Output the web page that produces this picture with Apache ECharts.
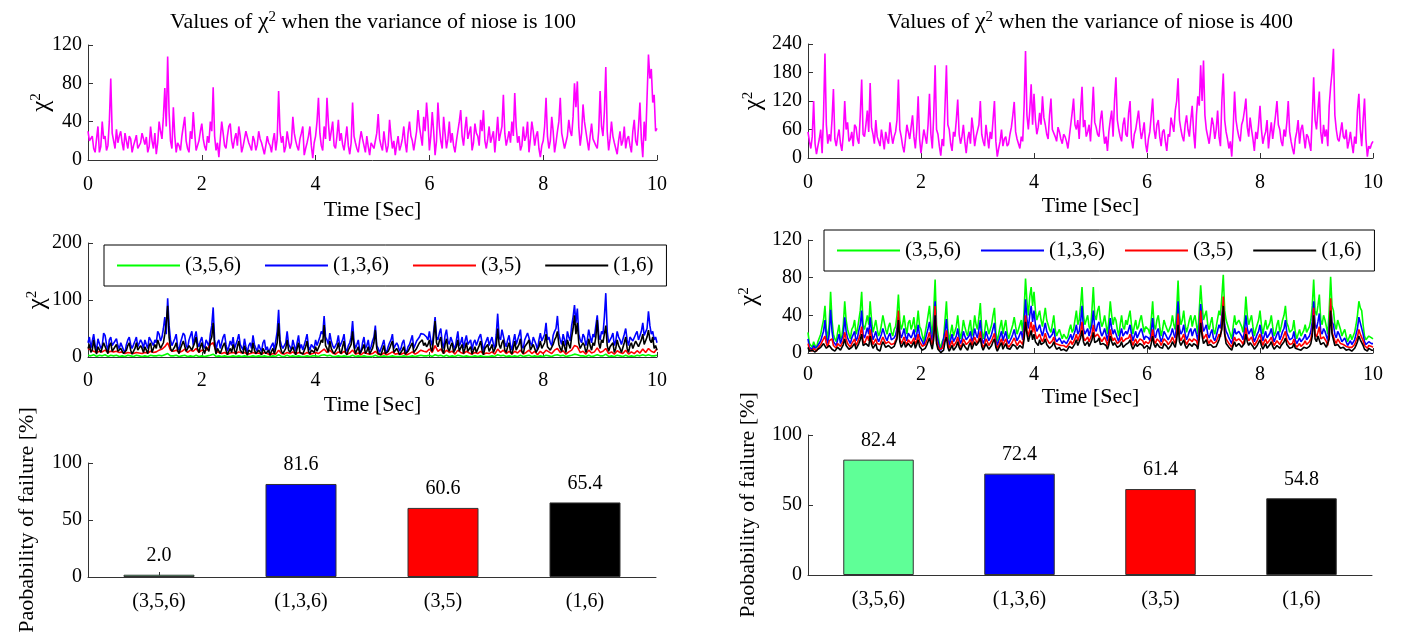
<!DOCTYPE html>
<html>
<head>
<meta charset="utf-8">
<title>Chi-square test values and probability of failure</title>
<script src="https://cdn.jsdelivr.net/npm/echarts@6/dist/echarts.min.js"></script>
<style>
  html, body { margin: 0; padding: 0; background: #fff; }
  #main { width: 1410px; height: 640px; }
</style>
</head>
<body>
<div id="main"></div>
<script>
// Every chi-square record covers 0..10 s, sampled uniformly
const TIME_SPAN = 10;

// Chi-square values, noise variance 100 (full sensor set), 0.025 s steps
const chi100 = [
  30,20, 18,25, 12,8, 22,35, 8,14, 40,22, 25,10, 15,40, 85,28, 20,12,
  32,18, 25,30, 18,10, 28,20, 12,25, 22,8, 15,20, 26,12, 10,18, 28,22,
  16,24, 8,14, 35,20, 12,28, 6,18, 40,30, 22,45, 75,35, 108,50, 20,12,
  55,25, 8,18, 15,10, 25,35, 45,20, 12,8, 30,22, 50,28, 10,15, 20,30,
  38,22, 14,10, 25,18, 40,30, 76,25, 10,18, 3,22, 40,28, 15,12, 25,35,
  38,20, 12,22, 28,15, 35,25, 8,14, 22,30, 32,18, 14,10, 25,20, 10,16,
  30,22, 18,12, 6,15, 25,18, 15,8, 20,28, 10,22, 72,30, 18,25, 8,14,
  30,20, 12,18, 45,28, 20,14, 10,22, 28,35, 5,12, 18,25, 35,15, 2,18,
  25,40, 65,28, 15,10, 35,22, 65,38, 20,30, 40,15, 12,25, 42,20, 28,16,
  10,22, 35,15, 6,18, 60,25, 18,12, 8,20, 30,22, 15,8, 25,14, 5,18,
  20,12, 10,28, 48,22, 15,10, 30,18, 8,15, 42,25, 12,20, 5,16, 25,10,
  15,22, 35,18, 8,28, 40,25, 20,10, 12,30, 52,35, 25,15, 45,30, 60,40,
  10,25, 50,30, 5,20, 60,35, 20,12, 45,28, 12,22, 40,18, 28,15, 8,20,
  30,40, 52,25, 15,32, 45,22, 20,35, 10,18, 38,28, 25,15, 42,30, 52,20,
  12,22, 35,18, 20,30, 8,25, 45,20, 22,35, 68,28, 15,22, 30,18, 40,25,
  70,35, 18,25, 10,15, 35,20, 25,40, 8,22, 40,30, 15,25, 30,12, 3,15,
  20,35, 65,25, 12,20, 45,30, 8,18, 30,40, 65,28, 20,12, 10,25, 42,30,
  25,45, 80,55, 82,35, 15,28, 58,40, 30,20, 10,25, 38,22, 20,15, 12,30,
  72,35, 25,50, 97,30, 10,22, 40,25, 18,12, 6,20, 30,15, 20,35, 12,22,
  25,15, 8,30, 42,20, 15,35, 60,22, 3,40, 20,65, 110,85, 95,60, 68,30,
  33
];

// Chi-square values, noise variance 400 (full sensor set), 0.025 s steps
const chi400 = [
  55,35, 20,45, 120,30, 8,25, 40,60, 10,90, 220,70, 30,50, 35,80, 145,40,
  25,45, 60,30, 15,50, 120,60, 75,35, 40,55, 25,70, 65,40, 30,90, 165,50,
  45,70, 100,55, 158,65, 50,30, 80,45, 35,25, 60,40, 18,55, 40,30, 75,50,
  30,45, 55,80, 165,60, 45,25, 12,40, 70,55, 40,65, 90,45, 20,60, 130,40,
  10,35, 60,45, 30,70, 135,50, 20,90, 195,60, 50,25, 5,40, 25,110, 195,70,
  60,30, 15,55, 45,80, 123,50, 30,45, 70,35, 10,40, 55,30, 85,60, 25,45,
  45,70, 120,50, 35,25, 70,45, 20,55, 40,80, 120,35, 3,20, 35,60, 25,40,
  45,25, 30,50, 65,90, 118,55, 40,30, 20,45, 35,110, 225,90, 60,100, 155,70,
  135,80, 50,65, 95,70, 130,85, 70,50, 40,90, 125,60, 60,45, 35,65, 55,40,
  30,50, 45,35, 20,45, 70,95, 125,70, 60,80, 40,100, 150,65, 80,45, 55,70,
  35,90, 150,75, 65,50, 45,80, 100,60, 30,45, 15,55, 80,100, 45,120, 170,80,
  60,45, 35,70, 85,50, 45,95, 120,40, 20,50, 60,80, 100,65, 40,55, 75,30,
  12,40, 55,90, 125,60, 40,70, 80,45, 25,55, 60,35, 15,50, 45,85, 70,55,
  100,120, 168,80, 60,45, 35,70, 90,60, 45,80, 110,55, 20,90, 130,110, 195,120,
  205,90, 60,45, 30,55, 85,70, 40,60, 100,45, 25,120, 178,80, 55,40, 20,35,
  3,60, 140,80, 60,45, 35,70, 80,100, 125,65, 45,85, 60,40, 15,55, 40,70,
  110,60, 30,45, 55,80, 20,50, 75,40, 40,90, 120,70, 60,35, 25,60, 45,75,
  120,55, 35,20, 8,40, 55,80, 30,60, 70,45, 20,50, 45,30, 15,90, 170,80,
  60,100, 140,55, 30,70, 45,60, 25,110, 150,180, 230,90, 60,40, 35,55, 75,45,
  40,60, 20,35, 55,30, 10,45, 30,100, 135,60, 25,80, 125,40, 3,25, 20,30,
  35
];

// Sensor subsets shown in the middle plots and the bar charts
const subsetNames = ['(3,5,6)', '(1,3,6)', '(3,5)', '(1,6)'];
const subsetLineColors = ['#00ff00', '#0000ff', '#ff0000', '#000000'];
const subsetBarColors = ['#5fff97', '#0000ff', '#ff0000', '#000000'];

// Variance 100, per subset
const v100_s356 = [
  3, 2, 4, 1, 3, 2, 4, 1, 3, 2,
  3, 1, 2, 1, 3, 2, 1, 3, 2, 1,
  2, 1, 3, 2, 2, 3, 2, 4, 6, 2,
  2, 3, 1, 2, 3, 1, 2, 1, 3, 1,
  2, 1, 2, 3, 5, 1, 2, 1, 2, 1,
  1, 2, 1, 2, 1, 2, 1, 1, 2, 1,
  2, 1, 2, 1, 1, 2, 1, 4, 1, 1,
  3, 1, 2, 1, 2, 1, 1, 2, 1, 2,
  2, 1, 3, 4, 2, 3, 1, 1, 2, 1,
  2, 1, 1, 3, 1, 2, 1, 2, 1, 1,
  1, 3, 1, 1, 2, 1, 1, 2, 1, 1,
  1, 2, 1, 1, 2, 1, 2, 3, 2, 2,
  3, 1, 4, 2, 3, 1, 3, 1, 2, 1,
  3, 2, 1, 2, 1, 1, 2, 1, 2, 1,
  1, 1, 2, 1, 4, 2, 3, 1, 2, 1,
  2, 1, 3, 1, 2, 3, 1, 2, 1, 2,
  1, 3, 2, 1, 3, 4, 2, 3, 1, 2,
  3, 5, 4, 2, 2, 1, 3, 1, 2, 4,
  2, 2, 5, 1, 2, 1, 3, 2, 1, 3,
  1, 2, 1, 3, 2, 4, 2, 4, 2, 2,
  3
];
const v100_s136 = [
  25,35, 15,28, 40,20, 12,32, 30,15, 20,42, 38,22, 10,30, 35,20, 18,28,
  32,20, 14,25, 28,12, 8,22, 30,35, 22,15, 12,28, 35,18, 18,30, 25,15,
  30,22, 15,35, 38,25, 20,30, 25,45, 40,28, 35,50, 70,40, 103,55, 30,20,
  22,32, 40,18, 12,25, 28,42, 38,20, 15,30, 30,45, 20,35, 45,25, 18,28,
  35,20, 15,30, 25,18, 40,55, 87,30, 12,25, 30,15, 18,35, 40,22, 10,18,
  28,20, 35,15, 12,30, 40,22, 20,12, 32,18, 8,20, 25,15, 38,22, 15,10,
  22,15, 10,25, 30,12, 18,8, 8,20, 25,12, 15,45, 83,30, 20,15, 12,25,
  45,22, 18,12, 30,20, 10,25, 38,15, 22,12, 15,30, 40,18, 12,22, 25,15,
  30,20, 18,35, 45,40, 72,35, 30,22, 42,28, 20,15, 12,25, 38,18, 15,30,
  40,15, 10,20, 25,35, 63,28, 15,22, 30,12, 8,25, 35,15, 20,30, 12,18,
  28,35, 55,20, 15,8, 10,22, 30,12, 8,18, 25,30, 40,15, 12,25, 20,10,
  15,25, 30,12, 8,18, 22,30, 38,15, 12,28, 25,35, 41,43, 40,42, 35,30,
  45,28, 20,45, 70,35, 30,42, 50,25, 15,38, 48,28, 22,35, 38,20, 12,30,
  45,20, 25,35, 15,28, 38,22, 20,30, 12,25, 30,20, 18,35, 40,25, 10,22,
  25,35, 20,28, 35,22, 15,40, 76,35, 30,48, 45,25, 18,30, 38,20, 12,28,
  40,22, 25,38, 48,20, 15,30, 30,42, 45,25, 20,35, 38,22, 12,30, 42,28,
  25,40, 60,30, 35,25, 20,38, 45,50, 72,40, 30,22, 40,30, 20,45, 35,28,
  55,70, 91,60, 85,40, 30,25, 40,35, 20,30, 48,35, 25,40, 35,55, 73,40,
  30,45, 40,70, 112,45, 25,30, 35,42, 20,28, 45,35, 30,22, 25,40, 50,30,
  20,35, 38,28, 25,40, 45,30, 30,45, 60,38, 35,50, 80,55, 40,45, 30,35,
  25
];
const v100_s35 = [
  15, 12, 10, 8, 10, 9, 12, 8, 10, 9,
  10, 8, 9, 6, 8, 7, 6, 8, 7, 6,
  8, 7, 10, 8, 9, 12, 14, 18, 25, 12,
  10, 12, 8, 10, 14, 8, 12, 10, 15, 8,
  12, 10, 14, 22, 25, 10, 8, 6, 8, 5,
  7, 8, 6, 9, 7, 8, 5, 6, 8, 6,
  7, 5, 8, 6, 4, 6, 5, 12, 6, 5,
  8, 6, 9, 5, 8, 7, 5, 8, 5, 6,
  8, 6, 10, 14, 8, 12, 7, 5, 9, 6,
  10, 5, 7, 12, 5, 7, 4, 8, 6, 5,
  6, 10, 5, 4, 7, 4, 6, 9, 5, 6,
  5, 7, 4, 6, 9, 5, 8, 12, 10, 9,
  14, 8, 20, 10, 14, 6, 12, 8, 10, 5,
  12, 8, 6, 10, 7, 5, 8, 6, 10, 5,
  7, 6, 9, 5, 14, 8, 12, 6, 10, 5,
  10, 7, 12, 5, 8, 12, 6, 10, 4, 10,
  6, 12, 9, 6, 12, 15, 8, 11, 5, 9,
  12, 20, 18, 8, 10, 5, 12, 7, 9, 16,
  8, 10, 15, 6, 9, 5, 11, 8, 6, 12,
  5, 9, 6, 11, 7, 14, 8, 15, 10, 8,
  15
];
const v100_s16 = [
  15,22, 8,12, 30,15, 5,18, 20,8, 10,25, 28,12, 6,20, 25,10, 12,18,
  22,10, 8,15, 18,6, 4,12, 20,25, 12,5, 6,15, 25,12, 10,20, 15,8,
  18,12, 6,20, 25,8, 10,22, 15,30, 28,15, 12,25, 40,60, 90,35, 15,10,
  10,18, 25,12, 6,15, 18,28, 30,10, 8,20, 20,12, 10,25, 35,15, 8,18,
  25,12, 6,18, 15,10, 28,35, 60,20, 5,15, 18,6, 8,20, 25,12, 4,10,
  15,8, 22,12, 5,18, 28,12, 10,6, 20,10, 3,12, 15,8, 25,12, 6,4,
  12,8, 4,15, 18,6, 8,12, 3,10, 15,5, 6,25, 59,20, 10,6, 5,15,
  30,12, 8,5, 18,10, 4,15, 25,8, 10,5, 6,18, 28,10, 5,12, 15,8,
  18,10, 8,22, 30,25, 56,20, 15,8, 28,15, 10,6, 5,15, 25,10, 6,18,
  28,8, 4,12, 15,22, 45,18, 6,12, 18,5, 3,15, 22,6, 10,18, 5,8,
  15,25, 47,15, 6,3, 4,12, 20,6, 3,10, 15,22, 28,8, 5,15, 10,4,
  6,12, 18,5, 3,10, 12,20, 25,8, 5,15, 15,25, 28,30, 20,25, 18,22,
  30,15, 10,35, 63,25, 18,28, 35,12, 6,22, 32,15, 10,20, 25,8, 5,18,
  30,10, 12,22, 6,15, 25,10, 10,18, 5,12, 18,8, 8,20, 28,12, 4,15,
  15,22, 10,15, 22,8, 6,20, 50,22, 15,25, 30,12, 8,18, 25,10, 5,15,
  28,12, 12,22, 32,10, 6,18, 18,25, 30,12, 10,22, 25,8, 5,18, 28,15,
  12,25, 40,18, 20,12, 10,22, 30,35, 45,22, 15,10, 28,18, 8,30, 22,15,
  35,50, 73,40, 60,25, 15,12, 25,20, 8,15, 32,20, 12,25, 20,35, 65,25,
  15,30, 25,40, 55,20, 10,18, 20,25, 8,15, 30,20, 15,8, 10,25, 35,15,
  8,20, 25,15, 12,28, 30,18, 15,30, 40,22, 20,35, 47,30, 25,35, 15,20,
  12
];

// Variance 400, per subset
const v400_s356 = [
  22,10, 8,6, 12,8, 5,12, 10,20, 28,35, 50,25, 15,30, 65,35, 20,15,
  12,22, 30,15, 18,30, 55,35, 25,20, 15,25, 28,35, 20,25, 35,45, 65,30,
  25,32, 40,30, 55,35, 22,28, 35,25, 18,22, 30,40, 38,25, 20,28, 32,22,
  18,25, 28,40, 62,35, 25,30, 40,28, 20,32, 35,25, 30,38, 22,30, 45,28,
  25,18, 12,22, 30,40, 50,30, 18,45, 78,30, 20,10, 5,12, 15,35, 55,25,
  12,22, 30,18, 20,28, 40,25, 15,22, 35,28, 22,18, 28,35, 18,25, 40,30,
  25,38, 53,25, 15,22, 35,28, 20,25, 30,40, 48,22, 12,20, 28,35, 20,28,
  35,22, 15,20, 25,30, 38,28, 20,25, 30,35, 22,45, 79,55, 40,60, 70,50,
  65,45, 35,40, 45,35, 28,38, 48,35, 30,25, 22,30, 40,25, 18,22, 25,20,
  15,20, 22,15, 18,25, 30,22, 25,35, 45,30, 35,50, 70,40, 30,35, 40,28,
  25,45, 70,40, 35,45, 50,35, 28,32, 40,30, 20,35, 55,40, 30,38, 35,25,
  18,30, 40,28, 25,35, 30,38, 45,30, 20,28, 35,25, 28,35, 40,30, 22,28,
  30,25, 20,35, 55,30, 25,35, 40,28, 18,25, 35,30, 28,22, 22,30, 40,30,
  25,45, 77,40, 30,35, 45,30, 22,28, 35,40, 28,35, 40,30, 20,45, 72,50,
  35,40, 45,30, 25,32, 38,25, 20,28, 30,45, 40,60, 83,45, 35,30, 25,20,
  15,28, 40,30, 28,35, 35,28, 22,35, 60,40, 30,35, 40,28, 18,25, 30,35,
  45,30, 20,28, 35,25, 25,32, 40,28, 18,22, 30,35, 22,28, 35,40, 50,32,
  28,22, 20,25, 35,22, 15,20, 25,18, 18,24, 30,22, 20,28, 35,50, 78,45,
  40,50, 62,35, 30,40, 35,28, 20,45, 81,50, 45,30, 25,35, 30,25, 18,22,
  25,18, 12,16, 20,14, 15,22, 30,40, 55,48, 45,30, 18,14, 12,18, 20,16,
  15
];
const v400_s136 = [
  15,6, 5,4, 8,5, 3,8, 6,13, 18,23, 35,16, 10,20, 46,23, 12,10,
  8,14, 20,10, 12,20, 38,23, 16,13, 10,16, 18,23, 13,16, 24,30, 45,20,
  16,21, 27,20, 38,23, 14,18, 23,16, 12,14, 20,26, 25,16, 13,18, 21,14,
  12,16, 19,26, 38,23, 16,20, 26,18, 13,21, 23,16, 20,25, 14,20, 30,18,
  16,12, 8,14, 20,26, 33,20, 12,30, 55,20, 13,6, 3,8, 10,23, 36,16,
  8,14, 20,12, 13,18, 26,16, 10,14, 23,18, 14,12, 18,23, 12,16, 26,20,
  16,25, 35,16, 10,14, 23,18, 13,16, 20,26, 32,14, 8,13, 18,23, 13,18,
  23,14, 10,13, 16,20, 25,18, 13,16, 20,23, 14,30, 57,36, 26,40, 50,33,
  45,30, 23,26, 30,23, 18,25, 32,23, 20,16, 14,20, 26,16, 12,14, 16,13,
  10,13, 14,10, 12,16, 20,14, 16,23, 30,20, 23,33, 50,26, 20,23, 26,18,
  16,30, 45,26, 23,30, 33,23, 18,21, 26,20, 13,23, 37,26, 20,25, 23,16,
  12,20, 26,18, 16,23, 20,25, 30,20, 13,18, 23,16, 18,23, 26,20, 14,18,
  20,16, 13,23, 37,20, 16,23, 26,18, 12,16, 23,20, 18,14, 14,20, 26,20,
  16,30, 55,26, 20,23, 30,20, 14,18, 23,26, 18,23, 26,20, 13,30, 52,33,
  23,26, 30,20, 16,21, 25,16, 13,18, 20,30, 26,40, 50,30, 23,20, 16,13,
  10,18, 26,20, 18,23, 23,18, 14,23, 40,26, 20,23, 26,18, 12,16, 20,23,
  30,20, 13,18, 23,16, 16,21, 26,18, 12,14, 20,23, 14,18, 23,26, 35,21,
  18,14, 13,16, 23,14, 10,13, 16,12, 12,16, 20,14, 13,18, 23,33, 55,30,
  26,33, 42,23, 20,26, 23,18, 13,30, 50,33, 30,20, 16,23, 20,16, 12,14,
  16,12, 8,10, 13,9, 10,14, 20,26, 38,32, 30,20, 12,9, 8,12, 13,10,
  10
];
const v400_s35 = [
  10,4, 3,2, 5,3, 2,5, 4,9, 12,15, 18,10, 6,13, 12,15, 8,6,
  5,10, 12,7, 8,13, 22,15, 10,8, 6,10, 12,15, 8,11, 15,20, 28,13,
  10,14, 18,13, 25,15, 9,12, 15,10, 8,9, 13,17, 16,10, 8,12, 14,9,
  8,10, 12,17, 45,15, 10,13, 17,12, 8,14, 15,10, 13,16, 9,13, 20,12,
  10,7, 5,9, 13,17, 22,13, 8,20, 50,13, 8,4, 2,5, 6,15, 24,10,
  5,9, 13,7, 8,12, 17,10, 6,9, 15,12, 9,7, 12,15, 8,10, 17,13,
  10,16, 23,10, 6,9, 15,12, 8,10, 13,17, 21,9, 5,8, 12,15, 8,12,
  15,9, 6,8, 10,13, 16,12, 8,10, 13,15, 9,20, 40,24, 17,26, 33,22,
  30,20, 15,17, 20,15, 12,16, 21,15, 13,10, 9,13, 17,10, 8,9, 10,8,
  6,8, 9,6, 8,10, 13,9, 10,15, 20,13, 15,22, 33,17, 13,15, 17,12,
  10,20, 30,17, 15,20, 22,15, 12,14, 17,13, 8,15, 25,17, 13,16, 15,10,
  8,13, 17,12, 10,15, 13,16, 20,13, 8,12, 15,10, 12,15, 17,13, 9,12,
  13,10, 8,15, 25,13, 10,15, 17,12, 8,10, 15,13, 12,9, 9,13, 17,13,
  10,20, 42,17, 13,15, 20,13, 9,12, 15,17, 12,15, 17,13, 8,20, 45,22,
  15,17, 20,13, 10,14, 16,10, 8,12, 13,20, 17,30, 60,20, 15,13, 10,8,
  6,12, 17,13, 12,15, 15,12, 9,15, 27,17, 13,15, 17,12, 8,10, 13,15,
  20,13, 8,12, 15,10, 10,14, 17,12, 8,9, 13,15, 9,12, 15,17, 23,14,
  12,9, 8,10, 15,9, 6,8, 10,7, 8,10, 13,9, 8,12, 15,22, 48,20,
  17,22, 28,15, 13,17, 15,12, 8,20, 58,22, 20,13, 10,15, 13,10, 8,9,
  10,7, 5,6, 8,6, 6,9, 13,17, 25,20, 20,13, 8,6, 5,8, 8,7,
  6
];
const v400_s16 = [
  6,2, 1,3, 3,1, 0.5,4, 2,6, 8,10, 12,5, 3,8, 9,4, 4,2,
  2,6, 8,3, 4,9, 15,8, 6,4, 3,6, 8,10, 4,7, 10,14, 20,8,
  6,10, 12,7, 18,9, 5,7, 10,4, 4,2, 8,12, 11,6, 4,8, 9,5,
  4,7, 8,15, 35,12, 6,9, 12,6, 4,10, 10,6, 8,12, 5,9, 14,7,
  6,3, 2,5, 8,12, 16,9, 4,15, 40,10, 4,2, 0.5,2, 3,12, 17,6,
  2,5, 8,3, 4,7, 12,6, 3,5, 10,7, 5,3, 8,11, 4,6, 12,8,
  6,12, 16,7, 3,5, 10,7, 4,6, 8,12, 15,6, 2,4, 8,11, 4,7,
  10,5, 3,4, 6,9, 11,7, 4,6, 8,10, 5,15, 33,20, 12,18, 24,14,
  20,12, 10,8, 14,9, 7,11, 15,9, 8,5, 5,8, 12,7, 4,5, 6,3,
  3,4, 5,2, 4,7, 8,5, 6,10, 14,8, 10,16, 24,12, 8,10, 12,7,
  6,14, 22,11, 10,13, 16,9, 7,10, 12,8, 4,9, 18,12, 8,11, 10,6,
  4,8, 12,6, 6,9, 8,11, 14,8, 4,6, 10,7, 7,10, 12,8, 5,7,
  8,6, 4,10, 18,9, 6,10, 12,6, 4,5, 10,8, 7,4, 5,8, 12,9,
  6,14, 30,12, 8,10, 14,8, 5,7, 10,12, 7,10, 12,8, 4,15, 32,18,
  10,12, 14,8, 6,9, 11,6, 4,7, 8,14, 12,25, 50,20, 10,8, 6,4,
  3,8, 12,7, 7,10, 10,6, 5,10, 20,12, 8,11, 12,7, 4,6, 8,10,
  14,8, 4,7, 10,5, 6,9, 12,7, 4,5, 8,10, 5,8, 10,12, 16,9,
  7,5, 4,6, 10,5, 3,4, 6,3, 4,6, 8,5, 4,7, 10,18, 40,15,
  12,18, 20,9, 8,11, 10,6, 4,15, 45,20, 14,8, 6,9, 8,5, 4,6,
  6,3, 2,4, 4,2, 3,5, 8,12, 18,14, 14,8, 4,2, 2,5, 4,3,
  3
];

// Probability of failure per subset [%]
const failure100 = [2.0, 81.6, 60.6, 65.4];
const failure400 = [82.4, 72.4, 61.4, 54.8];

const subsets100 = [v100_s356, v100_s136, v100_s35, v100_s16];
const subsets400 = [v400_s356, v400_s136, v400_s35, v400_s16];

const FONT = 'Liberation Serif';
const AXIS_COLOR = '#333';

// Pair each sample with its time stamp
function timed(values) {
  const step = TIME_SPAN / (values.length - 1);
  return values.map((v, i) => [Math.round(i * step * 1000) / 1000, v]);
}

const chiRich = {
  c: { fontFamily: FONT, fontSize: 25, color: '#000' },
  s: { fontFamily: FONT, fontSize: 15, color: '#000', verticalAlign: 'top' }
};

function timeAxis(gridIndex, labelMargin, nameGap) {
  return {
    type: 'value', gridIndex, min: 0, max: 10, interval: 2,
    name: 'Time [Sec]', nameLocation: 'middle', nameGap, nameMoveOverlap: false,
    nameTextStyle: { fontFamily: FONT, fontSize: 22, color: '#000' },
    axisLine: { show: true, onZero: false, lineStyle: { color: AXIS_COLOR, width: 1 } },
    axisTick: { show: true, inside: true, length: 5, lineStyle: { color: AXIS_COLOR } },
    axisLabel: { fontFamily: FONT, fontSize: 20, color: '#000', margin: labelMargin },
    splitLine: { show: false }
  };
}

function chiAxis(gridIndex, max, interval, nameGap) {
  return {
    type: 'value', gridIndex, min: 0, max, interval,
    name: '{c|χ}{s|2}', nameLocation: 'middle', nameRotate: 90, nameGap, nameMoveOverlap: false,
    nameTextStyle: { rich: chiRich },
    axisLine: { show: true, onZero: false, lineStyle: { color: AXIS_COLOR, width: 1 } },
    axisTick: { show: true, inside: true, length: 5, lineStyle: { color: AXIS_COLOR } },
    axisLabel: { fontFamily: FONT, fontSize: 20, color: '#000', margin: 6 },
    splitLine: { show: false }
  };
}

function subsetAxis(gridIndex) {
  return {
    type: 'category', gridIndex, data: subsetNames,
    axisLine: { show: true, lineStyle: { color: AXIS_COLOR, width: 1 } },
    axisTick: { show: true, inside: true, length: 5, alignWithLabel: true, lineStyle: { color: AXIS_COLOR } },
    axisLabel: { fontFamily: FONT, fontSize: 20, color: '#000', margin: 15 },
    splitLine: { show: false }
  };
}

function failureAxis(gridIndex, nameGap) {
  return {
    type: 'value', gridIndex, min: 0, max: 100, interval: 50,
    name: 'Paobability of failure [%]', nameLocation: 'middle', nameRotate: 90, nameGap, nameMoveOverlap: false,
    nameTextStyle: { fontFamily: FONT, fontSize: 22, color: '#000' },
    axisLine: { show: true, lineStyle: { color: AXIS_COLOR, width: 1 } },
    axisTick: { show: true, inside: true, length: 5, lineStyle: { color: AXIS_COLOR } },
    axisLabel: { fontFamily: FONT, fontSize: 20, color: '#000', margin: 6 },
    splitLine: { show: false }
  };
}

function chiLine(axisIndex, values, color, name) {
  return {
    type: 'line', name, xAxisIndex: axisIndex, yAxisIndex: axisIndex,
    data: timed(values), showSymbol: false, symbol: 'none',
    lineStyle: { color, width: 1.6 }, itemStyle: { color },
    emphasis: { disabled: true }, animation: false
  };
}

function failureBars(axisIndex, values) {
  return {
    type: 'bar', name: 'failure' + axisIndex, xAxisIndex: axisIndex, yAxisIndex: axisIndex,
    data: values.map((v, i) => ({ value: v, itemStyle: { color: subsetBarColors[i] } })),
    barWidth: '50%',
    itemStyle: { borderColor: '#333', borderWidth: 1 },
    label: {
      show: true, position: 'top', distance: 9,
      formatter: p => p.value.toFixed(1),
      fontFamily: FONT, fontSize: 20, color: '#000'
    },
    animation: false
  };
}

function legendBox(left, top, itemGap) {
  return {
    left, top, orient: 'horizontal', data: subsetNames,
    icon: 'rect', itemWidth: 63, itemHeight: 2, itemGap,
    padding: [10, 13], borderColor: '#000', borderWidth: 1, backgroundColor: '#fff',
    textStyle: { fontFamily: FONT, fontSize: 21, color: '#000' },
    selectedMode: false
  };
}

function titleText(x, variance) {
  return {
    type: 'text', x, y: 22,
    style: {
      text: '{t|Values of }{c|χ}{s|2}{t| when the variance of niose is ' + variance + '}',
      align: 'center', verticalAlign: 'middle',
      rich: {
        t: { fontFamily: FONT, fontSize: 22, color: '#000' },
        c: { fontFamily: FONT, fontSize: 24, color: '#000' },
        s: { fontFamily: FONT, fontSize: 15, color: '#000', verticalAlign: 'top' }
      }
    }
  };
}

const grids = [
  { left: 88, top: 45, width: 569, height: 115 },
  { left: 808, top: 44, width: 565, height: 114 },
  { left: 88, top: 243, width: 569, height: 114 },
  { left: 808, top: 240, width: 565, height: 113 },
  { left: 88, top: 463, width: 568, height: 114 },
  { left: 808, top: 435, width: 564, height: 140 }
].map(g => Object.assign({ containLabel: false, outerBoundsMode: 'none' }, g));

const series = [
  chiLine(0, chi100, '#ff00ff', 'chi100'),
  chiLine(1, chi400, '#ff00ff', 'chi400')
];
subsets100.forEach((vals, k) => series.push(chiLine(2, vals, subsetLineColors[k], subsetNames[k])));
subsets400.forEach((vals, k) => series.push(chiLine(3, vals, subsetLineColors[k], subsetNames[k])));
series.push(failureBars(4, failure100));
series.push(failureBars(5, failure400));

const option = {
  animation: false,
  backgroundColor: '#fff',
  textStyle: { fontFamily: FONT },
  grid: grids,
  xAxis: [
    timeAxis(0, 15, 39), timeAxis(1, 15, 37), timeAxis(2, 14, 37), timeAxis(3, 12, 33),
    subsetAxis(4), subsetAxis(5)
  ],
  yAxis: [
    chiAxis(0, 120, 40, 34), chiAxis(1, 240, 60, 42), chiAxis(2, 200, 100, 38), chiAxis(3, 120, 40, 46),
    failureAxis(4, 50), failureAxis(5, 49)
  ],
  legend: [legendBox(104, 245, 24), legendBox(824, 230, 20)],
  graphic: [titleText(373, 100), titleText(1090, 400)],
  series
};

const chart = echarts.init(document.getElementById('main'), null, { renderer: 'canvas' });
chart.setOption(option);
</script>
</body>
</html>
